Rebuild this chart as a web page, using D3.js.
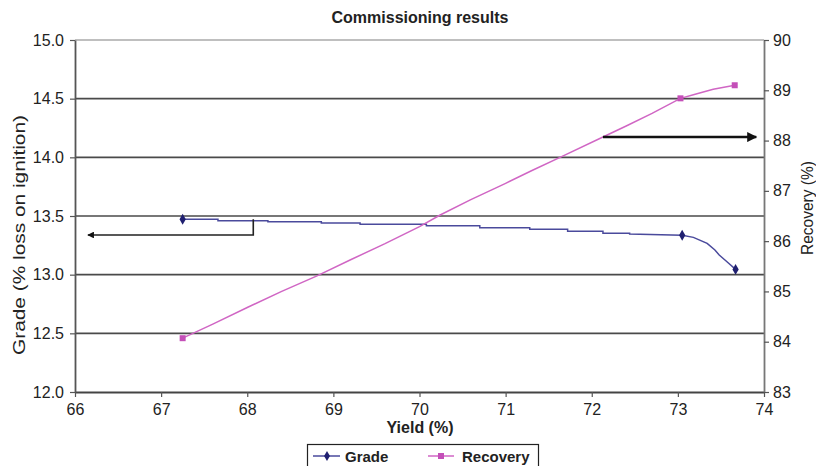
<!DOCTYPE html>
<html><head><meta charset="utf-8">
<script src="https://cdn.jsdelivr.net/npm/d3@7"></script>
<style>
body{margin:0;background:#fff;}
text{font-family:"Liberation Sans",Arial,Helvetica,sans-serif;fill:#222;}
</style></head>
<body><svg id="c" width="816" height="466"></svg>
<script>
// ---- data ----
const xTicks = [66,67,68,69,70,71,72,73,74];
const gradeTicks = [12.0,12.5,13.0,13.5,14.0,14.5,15.0];
const recoveryTicks = [83,84,85,86,87,88,89,90];

// Grade line (yield %, grade %)
const gradeYield = [67.25,67.66,67.66,68.24,68.24,68.86,68.86,69.31,69.31,70.08,70.08,70.70,70.70,71.28,71.28,71.72,71.72,72.13,72.13,72.44,72.44,73.05,73.18,73.34,73.43,73.48,73.57,73.67];
const gradeValues = [13.472,13.472,13.460,13.460,13.451,13.451,13.440,13.440,13.429,13.429,13.417,13.417,13.400,13.400,13.387,13.387,13.370,13.370,13.353,13.353,13.347,13.336,13.318,13.267,13.210,13.168,13.110,13.045];
const gradeMarkerYield = [67.25,73.05,73.67];
const gradeMarkerValues = [13.472,13.336,13.045];

// Recovery line (yield %, recovery %)
const recoveryYield = [67.25,67.60,68.00,68.40,68.81,69.20,69.60,70.00,70.24,70.59,71.00,71.30,71.65,72.13,72.40,72.70,73.03,73.18,73.41,73.66];
const recoveryValues = [84.07,84.35,84.68,85.00,85.31,85.63,85.95,86.29,86.52,86.82,87.15,87.40,87.68,88.07,88.29,88.54,88.84,88.91,89.02,89.10];
const recoveryMarkerYield = [67.25,73.03,73.66];
const recoveryMarkerValues = [84.07,88.84,89.10];

// annotation arrows (data coordinates)
const leftArrow = {x1:68.07, yTop:13.472, x2:66.15, y:13.338};
const rightArrow = {x1:72.13, x2:73.91, y:88.07};

// ---- chart ----
const svg = d3.select("#c");
const L=75, R=764, T=40, B=392;
const x = d3.scaleLinear().domain([66,74]).range([L,R]);
const yG = d3.scaleLinear().domain([12,15]).range([B,T]);
const yR = d3.scaleLinear().domain([83,90]).range([B,T]);

const gradeColor = "#4a4a9c", gradeMark="#1f1f70";
const recColor = "#d066c4", recMark="#c44fb8";

// gridlines
svg.append("g").selectAll("line").data(gradeTicks.filter(d=>d>12 && d<15)).join("line")
  .attr("x1",L).attr("x2",R).attr("y1",d=>yG(d)).attr("y2",d=>yG(d))
  .attr("stroke","#4a4a4a").attr("stroke-width",1.6);
svg.append("line").attr("x1",L).attr("x2",R).attr("y1",T).attr("y2",T)
  .attr("stroke","#aaa").attr("stroke-width",1.6);

// axes
const fontSize = "16px";
const ax = svg.append("g").attr("transform",`translate(0,${B})`)
  .call(d3.axisBottom(x).tickValues(xTicks).tickFormat(d3.format("d")).tickSize(5).tickSizeOuter(0));
const al = svg.append("g").attr("transform",`translate(${L},0)`)
  .call(d3.axisLeft(yG).tickValues(gradeTicks).tickFormat(d3.format(".1f")).tickSize(5).tickSizeOuter(0));
const ar = svg.append("g").attr("transform",`translate(${R},0)`)
  .call(d3.axisRight(yR).tickValues(recoveryTicks).tickFormat(d3.format("d")).tickSize(5).tickSizeOuter(0));
[ax,al,ar].forEach(g=>{
  g.selectAll("text").attr("font-size",fontSize).attr("fill","#222")
    .attr("font-family","'Liberation Sans',Arial,sans-serif");
  g.select(".domain").attr("stroke","#555").attr("stroke-width",1.8);
  g.selectAll(".tick line").attr("stroke","#555").attr("stroke-width",1.2);
});
ax.select(".domain").attr("stroke","#444");
ax.selectAll("text").attr("dy","0.95em");
al.selectAll("text").attr("dx","-3px");
ar.selectAll("text").attr("dx","1px");
ar.select(".domain").attr("stroke","#777");

// lines
const line = d3.line().x(d=>x(d[0])).y(d=>d[1]);
svg.append("path").datum(gradeYield.map((v,i)=>[v,yG(gradeValues[i])]))
  .attr("d",line).attr("fill","none").attr("stroke",gradeColor).attr("stroke-width",1.5);
svg.append("path").datum(recoveryYield.map((v,i)=>[v,yR(recoveryValues[i])]))
  .attr("d",line).attr("fill","none").attr("stroke",recColor).attr("stroke-width",1.5);

// markers
svg.append("g").selectAll("path").data(gradeMarkerYield.map((v,i)=>[v,gradeMarkerValues[i]])).join("path")
  .attr("d",d3.symbol(d3.symbolDiamond,34)).attr("transform",d=>`translate(${x(d[0])},${yG(d[1])})`)
  .attr("fill",gradeMark);
svg.append("g").selectAll("rect").data(recoveryMarkerYield.map((v,i)=>[v,recoveryMarkerValues[i]])).join("rect")
  .attr("x",d=>x(d[0])-3).attr("y",d=>yR(d[1])-3).attr("width",6).attr("height",6)
  .attr("fill",recMark);

// arrows
const defs = svg.append("defs");
defs.append("marker").attr("id","ah").attr("viewBox","0 0 10 10").attr("refX",9).attr("refY",5)
  .attr("markerWidth",5).attr("markerHeight",4.2).attr("orient","auto")
  .append("path").attr("d","M0,0L10,5L0,10z").attr("fill","#111");
svg.append("path")
  .attr("d",`M${x(leftArrow.x1)},${yG(leftArrow.yTop)}V${yG(leftArrow.y)}H${x(leftArrow.x2)}`)
  .attr("fill","none").attr("stroke","#222").attr("stroke-width",1.6).attr("marker-end","url(#ah)");
svg.append("line").attr("x1",x(rightArrow.x1)).attr("x2",x(rightArrow.x2))
  .attr("y1",yR(rightArrow.y)).attr("y2",yR(rightArrow.y))
  .attr("stroke","#111").attr("stroke-width",2.4).attr("marker-end","url(#ah)");

// titles
svg.append("text").attr("x",420).attr("y",23).attr("text-anchor","middle")
  .attr("font-size","16px").attr("font-weight","bold").text("Commissioning results");
svg.append("text").attr("x",420).attr("y",433).attr("text-anchor","middle")
  .attr("font-size","16px").attr("font-weight","bold").text("Yield (%)");
svg.append("text").attr("transform","translate(25,235) rotate(-90)").attr("text-anchor","middle")
  .attr("font-size","16px").attr("textLength",240).attr("lengthAdjust","spacingAndGlyphs")
  .text("Grade (% loss on ignition)");
svg.append("text").attr("transform","translate(813,208) rotate(-90)").attr("text-anchor","middle")
  .attr("font-size","16px").attr("textLength",94).attr("lengthAdjust","spacingAndGlyphs").text("Recovery (%)");

// legend
const lg = svg.append("g");
lg.append("rect").attr("x",307.5).attr("y",444.5).attr("width",231).attr("height",30)
  .attr("fill","#fff").attr("stroke","#222").attr("stroke-width",1.2);
lg.append("line").attr("x1",313).attr("x2",340).attr("y1",456).attr("y2",456).attr("stroke",gradeColor).attr("stroke-width",1.5);
lg.append("path").attr("d",d3.symbol(d3.symbolDiamond,30)).attr("transform","translate(327,456)").attr("fill",gradeMark);
lg.append("text").attr("x",345).attr("y",462).attr("font-size","15px").attr("font-weight","bold").text("Grade");
lg.append("line").attr("x1",428).attr("x2",454).attr("y1",456).attr("y2",456).attr("stroke",recColor).attr("stroke-width",1.5);
lg.append("rect").attr("x",438).attr("y",453).attr("width",6).attr("height",6).attr("fill",recMark);
lg.append("text").attr("x",462).attr("y",462).attr("font-size","15px").attr("font-weight","bold").text("Recovery");
</script></body></html>
